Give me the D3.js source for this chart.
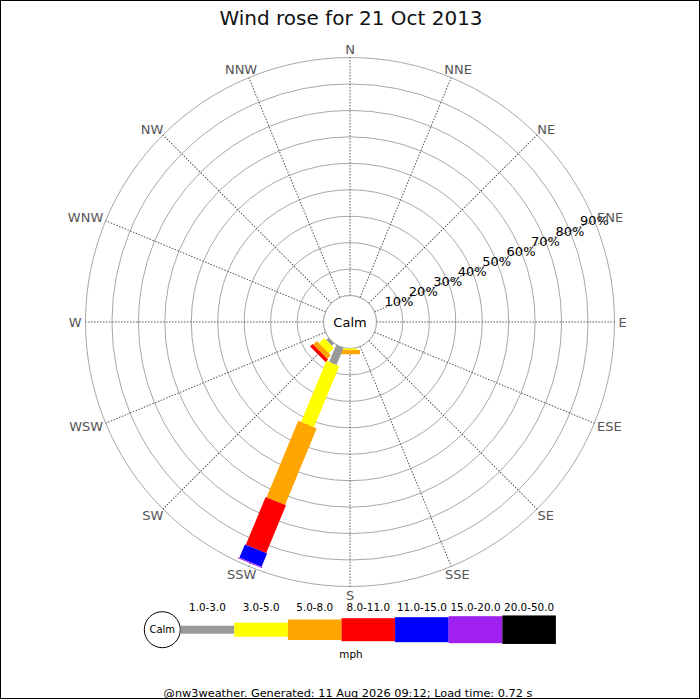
<!DOCTYPE html>
<html>
<head>
<meta charset="utf-8">
<script src="https://cdn.jsdelivr.net/npm/d3@7"></script>
<style>
  html, body { margin: 0; padding: 0; background: #fff; }
  svg { display: block; font-family: "DejaVu Sans", sans-serif; }
</style>
</head>
<body>
<svg id="chart" width="700" height="700"></svg>
<script>
// ---------- data ----------
const title = "Wind rose for 21 Oct 2013";
const footer = "@nw3weather. Generated: 11 Aug 2026 09:12; Load time: 0.72 s";
const directions = ["N","NNE","NE","ENE","E","ESE","SE","SSE","S","SSW","SW","WSW","W","WNW","NW","NNW"];
const speedRanges = ["1.0-3.0","3.0-5.0","5.0-8.0","8.0-11.0","11.0-15.0","15.0-20.0","20.0-50.0"];
const speedUnit = "mph";
const calmLabel = "Calm";
const percentTicks = [10,20,30,40,50,60,70,80,90];
// percent of time per speed range, for the directions that have wind
const valuesS   = [0.0, 0.6, 1.6, 0.0, 0.0, 0.0, 0.0];
const valuesSSW = [7.0, 25.0, 31.3, 19.6, 5.4, 0.4, 0.0];
const valuesSW  = [1.2, 2.8, 1.9, 1.3, 0.0, 0.0, 0.0];

// ---------- styles ----------
const rangeColors = ["#999999","#ffff00","#ffa500","#ff0000","#0000ff","#a020f0","#000000"];
const barWidths   = [8, 14, 20, 22, 24, 26, 28];
const legendHeights = [8, 14, 20.5, 23, 25, 27, 28.5];

const table = new Map(directions.map(d => [d, speedRanges.map(() => 0)]));
table.set("S", valuesS);
table.set("SSW", valuesSSW);
table.set("SW", valuesSW);

const svg = d3.select("#chart");
const W = 700, H = 700;
const cx = 350, cy = 322;
const R = 264.5;
const r0 = R / 10;

svg.append("rect").attr("x", 0).attr("y", 0).attr("width", W).attr("height", H).attr("fill", "#fff");
svg.append("rect").attr("x", 0.5).attr("y", 0.5).attr("width", 699).attr("height", 698)
  .attr("fill", "none").attr("stroke", "#000").attr("stroke-width", 1);

// title
svg.append("text").attr("x", 351).attr("y", 25).attr("text-anchor", "middle")
  .attr("font-size", 20).attr("fill", "#111").text(title);

const rScale = d3.scaleLinear().domain([0, 90]).range([r0, R]);
const aScale = d3.scaleLinear().domain([0, directions.length]).range([0, 360]);

const g = svg.append("g").attr("transform", `translate(${cx},${cy})`);

// grid circles
g.selectAll("circle.grid").data([0].concat(percentTicks)).join("circle")
  .attr("class", "grid")
  .attr("r", d => rScale(d))
  .attr("fill", "none").attr("stroke", "#a8a8a8").attr("stroke-width", 1);

// radial lines
g.selectAll("line.radial").data(directions).join("line")
  .attr("class", "radial")
  .attr("transform", (d, i) => `rotate(${aScale(i)})`)
  .attr("x1", 0).attr("y1", -rScale(0))
  .attr("x2", 0).attr("y2", -R)
  .attr("stroke", "#555").attr("stroke-width", 1)
  .attr("stroke-dasharray", "1.5,1.5");

// calm circle fill
g.append("circle").attr("r", rScale(0)).attr("fill", "#fff")
  .attr("stroke", "#a8a8a8").attr("stroke-width", 1);

// bars
directions.forEach((dir, i) => {
  const vals = table.get(dir);
  let cum = 0;
  const segs = vals.map((v, k) => {
    const s = { k, start: cum, end: cum + v, v };
    cum += v;
    return s;
  }).filter(s => s.v > 0);
  const bg = g.append("g").attr("transform", `rotate(${aScale(i)})`);
  bg.selectAll("rect").data(segs).join("rect")
    .attr("x", s => -barWidths[s.k] / 2)
    .attr("width", s => barWidths[s.k])
    .attr("y", s => -rScale(s.end))
    .attr("height", s => rScale(s.end) - rScale(s.start))
    .attr("fill", s => rangeColors[s.k]);
});

// calm text
g.append("text").attr("x", 0).attr("y", 5).attr("text-anchor", "middle")
  .attr("font-size", 13).attr("fill", "#000").text(calmLabel);

// percent labels along ENE
const labelAngle = aScale(3) * Math.PI / 180;
g.selectAll("text.pct").data(percentTicks).join("text")
  .attr("class", "pct")
  .attr("x", d => Math.sin(labelAngle) * rScale(d))
  .attr("y", d => -Math.cos(labelAngle) * rScale(d) + 4.7)
  .attr("text-anchor", "middle")
  .attr("font-size", 13).attr("fill", "#000")
  .text(d => d + "%");

// compass labels
const gap = 4;
const capH = 9.5;
const comp = g.selectAll("text.comp").data(directions).join("text")
  .attr("class", "comp")
  .attr("text-anchor", "middle")
  .attr("font-size", 13).attr("fill", "#555")
  .text(d => d);
comp.each(function(d, i) {
  const a = aScale(i) * Math.PI / 180;
  const ux = Math.sin(a), uy = -Math.cos(a);
  const w = this.getComputedTextLength();
  const px = ux * (R + gap) + ux * w / 2;
  const py = uy * (R + gap) + uy * capH / 2;
  d3.select(this).attr("x", px).attr("y", py + capH / 2);
});

// legend
const lg = svg.append("g");
const legX0 = 180.7, segW = 53.6, legCY = 629.7;
lg.append("circle").attr("cx", 162.3).attr("cy", legCY).attr("r", 18)
  .attr("fill", "#fff").attr("stroke", "#000").attr("stroke-width", 1);
lg.append("text").attr("x", 162.3).attr("y", legCY + 3.7).attr("text-anchor", "middle")
  .attr("font-size", 10).attr("fill", "#000").text(calmLabel);
const xL = d3.scaleBand().domain(speedRanges).range([legX0, legX0 + segW * speedRanges.length]).padding(0);
lg.selectAll("rect.leg").data(speedRanges).join("rect")
  .attr("class", "leg")
  .attr("x", d => xL(d))
  .attr("width", xL.bandwidth())
  .attr("y", (d, k) => legCY - legendHeights[k] / 2)
  .attr("height", (d, k) => legendHeights[k])
  .attr("fill", (d, k) => rangeColors[k]);
lg.selectAll("text.leg").data(speedRanges).join("text")
  .attr("class", "leg")
  .attr("x", d => xL(d) + xL.bandwidth() / 2)
  .attr("y", 611)
  .attr("text-anchor", "middle")
  .attr("font-size", 10.4).attr("fill", "#000")
  .text(d => d);
lg.append("text").attr("x", 351).attr("y", 657.5).attr("text-anchor", "middle")
  .attr("font-size", 10.4).attr("fill", "#000").text(speedUnit);

// footer
svg.append("text").attr("x", 348).attr("y", 696.5).attr("text-anchor", "middle")
  .attr("font-size", 11.3).attr("fill", "#000").text(footer);
</script>
</body>
</html>
